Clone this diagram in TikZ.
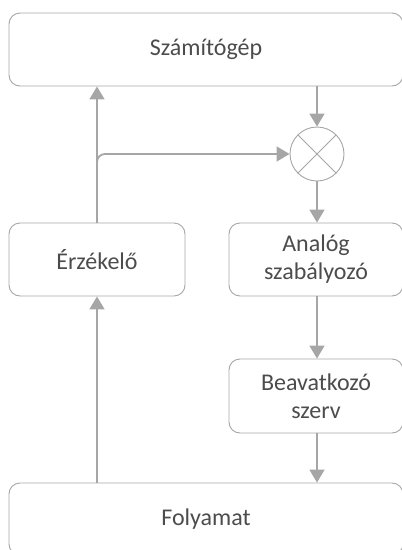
\documentclass[tikz,border=0pt]{standalone}
\usepackage{fontspec}
\setmainfont{Carlito}
\usetikzlibrary{arrows.meta,positioning}

\begin{document}
\begin{tikzpicture}[
  x=1pt, y=-1pt,
  font=\fontsize{24}{28}\selectfont,
  box/.style={draw=black!35, line width=0.9pt, rounded corners=11pt, align=center, text=black!70, minimum width=#1, minimum height=73pt, inner sep=0pt},
  box/.default=176pt,
  mix/.style={draw=black!35, line width=0.9pt, circle, minimum size=54pt, inner sep=0pt,
    path picture={\draw[black!35, line width=0.9pt] (path picture bounding box.north west) -- (path picture bounding box.south east) (path picture bounding box.north east) -- (path picture bounding box.south west);}},
  arr/.style={-{Triangle[length=13pt,width=15pt]}, line width=1.8pt, black!35},
  ]
\useasboundingbox (0,0) rectangle (402,550);
% boxes
\node[box=394pt] (szamito)    at (206,49.5)  {Számítógép};
\node[box]       (erzekelo)   at (97,259.5)  {Érzékelő};
\node[box=174pt] (analog)     at (316,259.5) {Analóg\\szabályozó};
\node[box=174pt, minimum height=74pt] (beavatkozo) at (316,396) {Beavatkozó\\szerv};
\node[box=394pt, minimum height=72pt] (folyamat)   at (206,519)   {Folyamat};
\node[mix] (mult) at (317,154) {};
% arrows
\draw[arr] (folyamat.north -| erzekelo.south) -- (erzekelo.south);
\draw[arr] (erzekelo.north) -- (erzekelo.north |- szamito.south);
\draw[arr, rounded corners=8pt] (erzekelo.north) |- (mult.west);
\draw[arr] (szamito.south -| mult.north) -- (mult.north);
\draw[arr] (mult.south) -- (mult.south |- analog.north);
\draw[arr] (analog.south -| mult.south) -- (mult.south |- beavatkozo.north);
\draw[arr] (beavatkozo.south -| mult.south) -- (mult.south |- folyamat.north);
\end{tikzpicture}
\end{document}
